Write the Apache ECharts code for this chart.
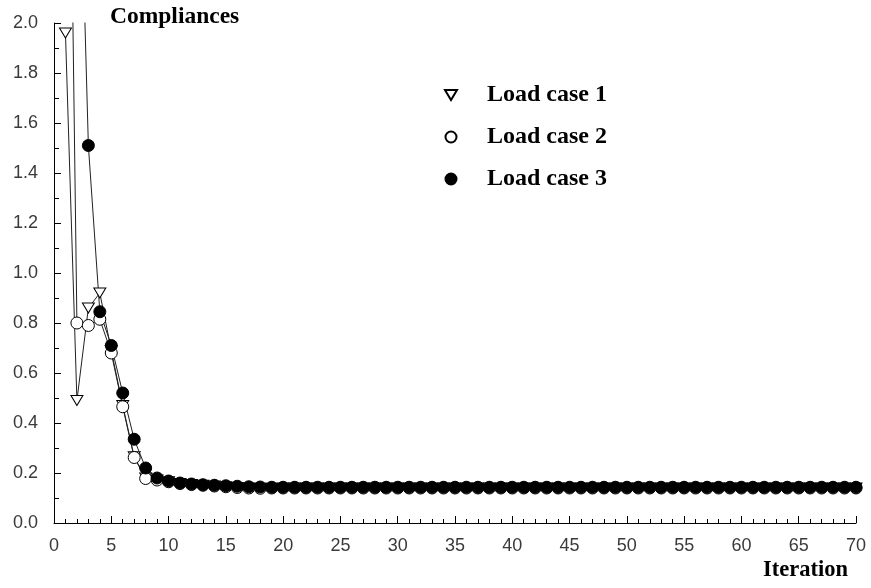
<!DOCTYPE html>
<html>
<head>
<meta charset="utf-8">
<script src="https://cdn.jsdelivr.net/npm/echarts@6/dist/echarts.min.js"></script>
<style>
html,body{margin:0;padding:0;background:#fff;}
#chart{width:871px;height:588px;}
</style>
</head>
<body>
<div id="chart"></div>
<script>
var iterations = [1,2,3,4,5,6,7,8,9,10,11,12,13,14,15,16,17,18,19,20,21,22,23,24,25,26,27,28,29,30,31,32,33,34,35,36,37,38,39,40,41,42,43,44,45,46,47,48,49,50,51,52,53,54,55,56,57,58,59,60,61,62,63,64,65,66,67,68,69,70];

var loadCase1 = [1.96,0.49,0.86,0.92,0.69,0.47,0.265,0.18,0.172,0.165,0.158,0.154,0.151,0.148,0.145,0.142,0.140,0.139,0.139,0.140,
0.140,0.140,0.140,0.140,0.140,0.140,0.140,0.140,0.140,0.140,0.140,0.140,0.140,0.140,0.140,0.140,0.140,0.140,0.140,0.140,
0.140,0.140,0.140,0.140,0.140,0.140,0.140,0.140,0.140,0.140,0.140,0.140,0.140,0.140,0.140,0.140,0.140,0.140,0.140,0.140,
0.140,0.140,0.140,0.140,0.140,0.140,0.140,0.140,0.140,0.140];

var loadCase2 = [4.25,0.80,0.79,0.815,0.68,0.465,0.262,0.178,0.172,0.165,0.158,0.154,0.151,0.148,0.145,0.142,0.140,0.139,0.140,0.140,
0.140,0.140,0.140,0.140,0.140,0.140,0.140,0.140,0.140,0.140,0.140,0.140,0.140,0.140,0.140,0.140,0.140,0.140,0.140,0.140,
0.140,0.140,0.140,0.140,0.140,0.140,0.140,0.140,0.140,0.140,0.140,0.140,0.140,0.140,0.140,0.140,0.140,0.140,0.140,0.140,
0.140,0.140,0.140,0.140,0.140,0.140,0.140,0.140,0.140,0.140];

var loadCase3 = [4.6,3.15,1.51,0.845,0.71,0.52,0.335,0.22,0.18,0.168,0.160,0.156,0.153,0.151,0.149,0.147,0.145,0.144,0.143,0.143,
0.143,0.143,0.143,0.143,0.143,0.143,0.143,0.143,0.143,0.143,0.143,0.143,0.143,0.143,0.143,0.143,0.143,0.143,0.143,0.143,
0.143,0.143,0.143,0.143,0.143,0.143,0.143,0.143,0.143,0.143,0.143,0.143,0.143,0.143,0.143,0.143,0.143,0.143,0.143,0.143,
0.143,0.143,0.143,0.143,0.143,0.143,0.143,0.143,0.143,0.143];

var seriesNames = ['Load case 1','Load case 2','Load case 3'];
var xTicks = [0,5,10,15,20,25,30,35,40,45,50,55,60,65,70];
var yTicks = [0.0,0.2,0.4,0.6,0.8,1.0,1.2,1.4,1.6,1.8,2.0];

function pairs(vals){ return iterations.map(function(x,i){ return [x, vals[i]]; }); }

var triDown = 'path://M0,0 L12,0 L6,10 Z';
var serifBold = {fontFamily:'Liberation Serif', fontWeight:'bold', fontSize:24, color:'#000'};
var tickFont = {fontFamily:'Liberation Sans', fontSize:18, color:'#3a3a3a'};

var xMin = xTicks[0], xMax = xTicks[xTicks.length-1];
var yMin = yTicks[0], yMax = yTicks[yTicks.length-1];

var chart = echarts.init(document.getElementById('chart'), null, {renderer:'canvas'});
chart.setOption({
  animation:false,
  backgroundColor:'#fff',
  title:[
    {text:'Compliances', left:110, top:5, textStyle:Object.assign({}, serifBold, {fontSize:23.5}), padding:0},
    {text:'Iteration', left:763, top:559, textStyle:Object.assign({}, serifBold, {fontSize:22.5}), padding:0}
  ],
  legend:{
    orient:'vertical', left:439, top:78, itemGap:18,
    itemWidth:12, itemHeight:11,
    textStyle:Object.assign({padding:[0,0,0,25]}, serifBold),
    data:[
      {name:seriesNames[0], icon:triDown},
      {name:seriesNames[1], icon:'circle'},
      {name:seriesNames[2], icon:'circle'}
    ]
  },
  grid:{left:54, right:15, top:23, bottom:65, containLabel:false},
  xAxis:[
    {
      type:'value', min:xMin, max:xMax, interval:5,
      axisLine:{show:true, lineStyle:{color:'#000', width:1}},
      axisTick:{show:true, inside:true, length:7, lineStyle:{color:'#000'}},
      splitLine:{show:false},
      axisLabel:Object.assign({margin:14}, tickFont)
    },
    {
      type:'value', min:xMin, max:xMax, interval:1, position:'bottom',
      axisLine:{show:false},
      axisTick:{show:true, inside:true, length:4, lineStyle:{color:'#000'}},
      splitLine:{show:false},
      axisLabel:{show:false}
    }
  ],
  yAxis:[
    {
      type:'value', min:yMin, max:yMax, interval:0.2,
      axisLine:{show:true, lineStyle:{color:'#000', width:1}},
      axisTick:{show:true, inside:true, length:7, lineStyle:{color:'#000'}},
      splitLine:{show:false},
      axisLabel:Object.assign({margin:16, formatter:function(v){ return v.toFixed(1); }}, tickFont)
    },
    {
      type:'value', min:yMin, max:yMax, interval:0.1, position:'left',
      axisLine:{show:false},
      axisTick:{show:true, inside:true, length:5, lineStyle:{color:'#000'}},
      splitLine:{show:false},
      axisLabel:{show:false}
    }
  ],
  series:[
    {name:seriesNames[0], type:'line', data:pairs(loadCase1), clip:true,
     symbol:triDown, symbolSize:[12,10], showAllSymbol:true,
     lineStyle:{color:'#222', width:1},
     itemStyle:{color:'#fff', borderColor:'#000', borderWidth:1}},
    {name:seriesNames[1], type:'line', data:pairs(loadCase2), clip:true,
     symbol:'circle', symbolSize:12, showAllSymbol:true,
     lineStyle:{color:'#222', width:1},
     itemStyle:{color:'#fff', borderColor:'#000', borderWidth:1}},
    {name:seriesNames[2], type:'line', data:pairs(loadCase3), clip:true,
     symbol:'circle', symbolSize:12, showAllSymbol:true,
     lineStyle:{color:'#222', width:1},
     itemStyle:{color:'#000', borderColor:'#000', borderWidth:1}}
  ]
});
</script>
</body>
</html>
